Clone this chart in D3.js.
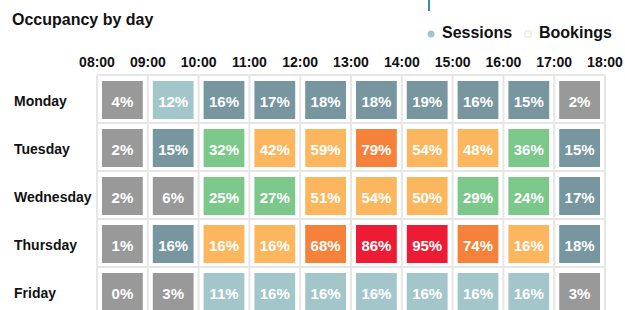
<!DOCTYPE html>
<html>
<head>
<meta charset="utf-8">
<script src="https://cdn.jsdelivr.net/npm/d3@7"></script>
<style>
    body { margin: 0; background: #fff; }
    svg { font-family: "Liberation Sans", Arial, sans-serif; }
</style>
</head>
<body>
<div id="chart"></div>
<script>
// Data
const days = ["Monday", "Tuesday", "Wednesday", "Thursday", "Friday"];
const hours = ["08:00", "09:00", "10:00", "11:00", "12:00", "13:00", "14:00", "15:00", "16:00", "17:00", "18:00"];
const monday = [4, 12, 16, 17, 18, 18, 19, 16, 15, 2];
const tuesday = [2, 15, 32, 42, 59, 79, 54, 48, 36, 15];
const wednesday = [2, 6, 25, 27, 51, 54, 50, 29, 24, 17];
const thursday = [1, 16, 16, 16, 68, 86, 95, 74, 16, 18];
const friday = [0, 3, 11, 16, 16, 16, 16, 16, 16, 3];
// colour class of each cell (0 = idle ... 6 = peak)
const mondayLevel = [0, 1, 2, 2, 2, 2, 2, 2, 2, 0];
const tuesdayLevel = [0, 2, 3, 4, 4, 5, 4, 4, 3, 2];
const wednesdayLevel = [0, 0, 3, 3, 4, 4, 4, 3, 3, 2];
const thursdayLevel = [0, 2, 4, 4, 5, 6, 6, 5, 4, 2];
const fridayLevel = [0, 0, 1, 1, 1, 1, 1, 1, 1, 0];
const legendItems = ["Sessions", "Bookings"];

const values = [monday, tuesday, wednesday, thursday, friday];
const levels = [mondayLevel, tuesdayLevel, wednesdayLevel, thursdayLevel, fridayLevel];

const cells = [];
days.forEach((day, r) => {
    values[r].forEach((v, c) => {
        cells.push({ day: day, start: hours[c], end: hours[c + 1], value: v, level: levels[r][c] });
    });
});

// Chart dimensions
const width = 625;
const height = 310;

const svg = d3.select("#chart")
    .append("svg")
    .attr("width", width)
    .attr("height", height);

// Scales
const xScale = d3.scalePoint()
    .domain(hours)
    .range([97, 605]);

const yScale = d3.scaleBand()
    .domain(days)
    .range([75, 315]);

const color = d3.scaleOrdinal()
    .domain([0, 1, 2, 3, 4, 5, 6])
    .range(["#999999", "#a3c6cb", "#77969f", "#7cc88a", "#fcb75e", "#f5813a", "#ee1b35"]);

// Title
svg.append("text")
    .attr("x", 12)
    .attr("y", 25)
    .attr("font-size", 16)
    .attr("font-weight", "bold")
    .attr("fill", "#111")
    .text("Occupancy by day");

// small marker at the top
svg.append("line")
    .attr("x1", 429).attr("x2", 429)
    .attr("y1", 0).attr("y2", 11)
    .attr("stroke", "#3a8a99")
    .attr("stroke-width", 2);

// Legend
const legend = svg.append("g").attr("transform", "translate(431, 34)");
const legendX = [0, 97];
legendItems.forEach((name, i) => {
    const g = legend.append("g").attr("transform", `translate(${legendX[i]}, 0)`);
    g.append("circle")
        .attr("r", 3.5)
        .attr("fill", i === 0 ? "#a3c6cb" : "#fff")
        .attr("stroke", i === 0 ? "none" : "#e0e0e0")
        .attr("stroke-width", 1);
    g.append("text")
        .attr("x", 11)
        .attr("y", 4)
        .attr("font-size", 16)
        .attr("font-weight", "bold")
        .attr("fill", "#111")
        .text(name);
});

// Grid lines
const grid = svg.append("g").attr("stroke", "#e6e6e6").attr("stroke-width", 2);
grid.selectAll(".vline")
    .data(hours)
    .enter()
    .append("line")
    .attr("x1", d => xScale(d)).attr("x2", d => xScale(d))
    .attr("y1", yScale.range()[0]).attr("y2", yScale.range()[1]);
grid.selectAll(".hline")
    .data(days.concat(["end"]))
    .enter()
    .append("line")
    .attr("x1", xScale.range()[0]).attr("x2", xScale.range()[1])
    .attr("y1", d => d === "end" ? yScale.range()[1] : yScale(d))
    .attr("y2", d => d === "end" ? yScale.range()[1] : yScale(d));

// Hour labels
svg.selectAll(".hour")
    .data(hours)
    .enter()
    .append("text")
    .attr("x", d => xScale(d))
    .attr("y", 67)
    .attr("text-anchor", "middle")
    .attr("font-size", 14)
    .attr("font-weight", "bold")
    .attr("fill", "#111")
    .text(d => d);

// Day labels
svg.selectAll(".day")
    .data(days)
    .enter()
    .append("text")
    .attr("x", 14)
    .attr("y", d => yScale(d) + yScale.bandwidth() / 2 + 7)
    .attr("font-size", 14)
    .attr("font-weight", "bold")
    .attr("fill", "#111")
    .text(d => d);

// Cells
const cell = svg.selectAll(".cell")
    .data(cells)
    .enter()
    .append("g")
    .attr("class", "cell");

cell.append("rect")
    .attr("x", d => xScale(d.start) + 5)
    .attr("y", d => yScale(d.day) + 6)
    .attr("width", d => xScale(d.end) - xScale(d.start) - 10)
    .attr("height", yScale.bandwidth() - 10)
    .attr("fill", d => color(d.level));

cell.append("text")
    .attr("x", d => (xScale(d.start) + xScale(d.end)) / 2)
    .attr("y", d => yScale(d.day) + 6 + (yScale.bandwidth() - 10) / 2 + 6.5)
    .attr("text-anchor", "middle")
    .attr("font-size", 15)
    .attr("font-weight", "bold")
    .attr("fill", "#fff")
    .text(d => d.value + "%");
</script>
</body>
</html>
